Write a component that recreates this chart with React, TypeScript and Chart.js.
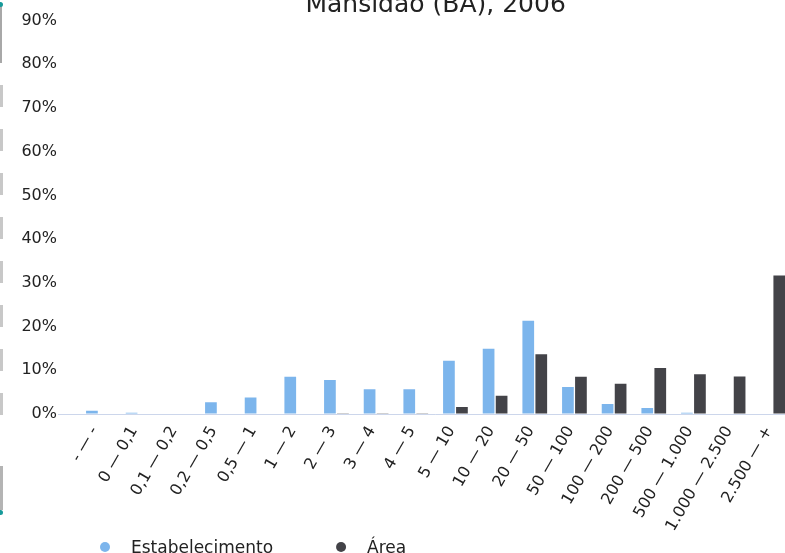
import { useEffect, useRef } from "react";
import { Chart, registerables } from "chart.js";

Chart.register(...registerables);

const chartTitle = "Mansidão (BA), 2006";
const categories = [
  "- — -",
  "0 — 0,1",
  "0,1 — 0,2",
  "0,2 — 0,5",
  "0,5 — 1",
  "1 — 2",
  "2 — 3",
  "3 — 4",
  "4 — 5",
  "5 — 10",
  "10 — 20",
  "20 — 50",
  "50 — 100",
  "100 — 200",
  "200 — 500",
  "500 — 1.000",
  "1.000 — 2.500",
  "2.500 — +",
];
const seriesNames = ["Estabelecimento", "Área"];
const estabelecimento = [0.75, 0.3, 0, 2.7, 3.8, 8.5, 7.8, 5.65, 5.65, 12.2, 14.9, 21.3, 6.2, 2.3, 1.37, 0.3, 0, 0];
const area = [0, 0, 0, 0, 0, 0, 0.05, 0.05, 0.2, 1.6, 4.2, 13.65, 8.5, 6.9, 10.5, 9.1, 8.6, 31.7];
const yMin = 0;
const yMax = 90;
const yStep = 10;

const FONT = "'DejaVu Sans', Verdana, sans-serif";
const TEXT = "#222222";

const legendPlugin = {
  id: "customLegend",
  afterDraw(chart: any) {
    const ctx = chart.ctx as CanvasRenderingContext2D;
    const area = chart.chartArea;
    const cy = area.bottom + 133;
    ctx.save();
    ctx.font = `17px ${FONT}`;
    ctx.textBaseline = "alphabetic";
    ctx.textAlign = "left";
    let cx = 105;
    chart.data.datasets.forEach((ds: any) => {
      ctx.beginPath();
      ctx.fillStyle = ds.backgroundColor;
      ctx.arc(cx, cy, 5, 0, Math.PI * 2);
      ctx.fill();
      ctx.fillStyle = TEXT;
      const tx = cx + 26;
      ctx.fillText(ds.label, tx, cy + 5.5);
      cx = tx + ctx.measureText(ds.label).width + 68;
    });
    ctx.restore();
  },
};

export default function App() {
  const ref = useRef<HTMLCanvasElement | null>(null);

  useEffect(() => {
    if (!ref.current) return;
    const chart = new Chart(ref.current, {
      type: "bar",
      data: {
        labels: categories,
        datasets: [
          {
            label: seriesNames[0],
            data: estabelecimento,
            backgroundColor: "#7cb5ec",
            borderWidth: 0,
            categoryPercentage: 0.656,
            barPercentage: 0.9,
          },
          {
            label: seriesNames[1],
            data: area,
            backgroundColor: "#434348",
            borderWidth: 0,
            categoryPercentage: 0.656,
            barPercentage: 0.9,
          },
        ],
      },
      options: {
        animation: false,
        responsive: true,
        maintainAspectRatio: false,
        devicePixelRatio: 1,
        layout: { padding: { left: 0, right: 37.4, top: 0, bottom: 11 } },
        plugins: {
          legend: { display: false },
          tooltip: { enabled: false },
          title: {
            display: true,
            text: chartTitle,
            fullSize: false,
            color: TEXT,
            font: { family: FONT, size: 25, weight: "normal" },
            padding: { top: 30.4, bottom: 0.1 },
          },
        },
        scales: {
          x: {
            grid: { display: false, drawTicks: false },
            border: { display: false },
            ticks: {
              autoSkip: false,
              maxRotation: 60,
              minRotation: 60,
              color: TEXT,
              font: { family: FONT, size: 16 },
              padding: 9,
              labelOffset: -4,
            },
            afterFit: (s: any) => {
              s.height = 135;
            },
          },
          y: {
            min: yMin,
            max: yMax,
            border: { display: false },
            grid: {
              color: (c: any) => (c.tick && c.tick.value === 0 ? "#ccd6eb" : "rgba(0,0,0,0)"),
              lineWidth: 1,
              drawTicks: true,
              tickLength: 20.6,
            },
            ticks: {
              stepSize: yStep,
              color: TEXT,
              font: { family: FONT, size: 16 },
              padding: 1,
              callback: (v: any) => `${v}%`,
            },
            afterFit: (s: any) => {
              s.width = 78.6;
            },
          },
        },
      },
      plugins: [legendPlugin],
    });
    return () => chart.destroy();
  }, []);

  const lightSegs = [85, 129, 173, 217, 261, 305, 349, 393];

  return (
    <div style={{ position: "absolute", left: 0, top: 0, width: 785, height: 553, overflow: "hidden", background: "#fff" }}>
      <div style={{ position: "absolute", left: 0, top: -40, width: 830, height: 600 }}>
        <canvas ref={ref} />
      </div>
      <div style={{ position: "absolute", left: 0, top: 5, width: 2, height: 58, background: "#a8a8a8" }} />
      <div style={{ position: "absolute", left: -2, top: 2, width: 5, height: 5, borderRadius: 3, background: "#179a9a" }} />
      {lightSegs.map((y) => (
        <div key={y} style={{ position: "absolute", left: 0, top: y, width: 3, height: 22, background: "#c8c8c8" }} />
      ))}
      <div style={{ position: "absolute", left: 0, top: 466, width: 3, height: 44, background: "#b4b4b4" }} />
      <div style={{ position: "absolute", left: -2, top: 510, width: 5, height: 5, borderRadius: 3, background: "#179a9a" }} />
    </div>
  );
}
